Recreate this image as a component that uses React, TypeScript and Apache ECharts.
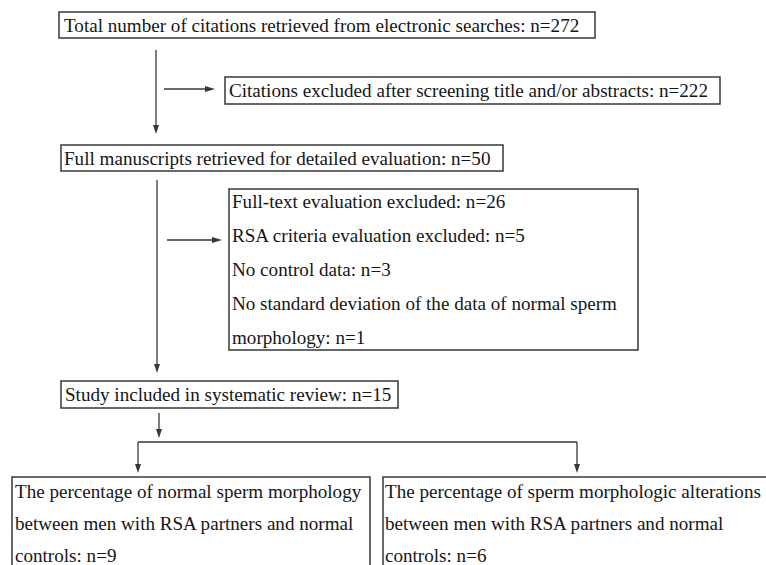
import React, { useEffect, useRef } from "react";
import * as echarts from "echarts";

// ---- data ----
const stageLabels = [
  "Total number of citations retrieved from electronic searches",
  "Citations excluded after screening title and/or abstracts",
  "Full manuscripts retrieved for detailed evaluation",
  "Study included in systematic review",
];
const stageCounts = [272, 222, 50, 15];

const exclusionLabels = [
  "Full-text evaluation excluded",
  "RSA criteria evaluation excluded",
  "No control data",
  "No standard deviation of the data of normal sperm\nmorphology",
];
const exclusionCounts = [26, 5, 3, 1];

const outcomeLabels = [
  "The percentage of normal sperm morphology\nbetween men with RSA partners and normal\ncontrols",
  "The percentage of sperm morphologic alterations\nbetween men with RSA partners and normal\ncontrols",
];
const outcomeCounts = [9, 6];

const FONT = '19.1px "Liberation Serif", "DejaVu Serif", serif';
const LINE = "#383838";
const TEXT = "#161616";

function box(x: number, y: number, w: number, h: number) {
  return {
    type: "rect",
    shape: { x, y, width: w, height: h },
    style: { fill: "none", stroke: LINE, lineWidth: 1.5 },
  };
}

function label(x: number, y: number, text: string, lineHeight = 34) {
  return {
    type: "text",
    x,
    y,
    style: {
      text,
      font: FONT,
      fill: TEXT,
      lineHeight,
      verticalAlign: "top",
    },
  };
}

function vArrow(x: number, y1: number, y2: number) {
  return [
    { type: "line", shape: { x1: x, y1, x2: x, y2: y2 - 7 }, style: { stroke: LINE, lineWidth: 1.3 } },
    {
      type: "polygon",
      shape: { points: [[x - 3, y2 - 9], [x + 3, y2 - 9], [x, y2]] },
      style: { fill: LINE },
    },
  ];
}

function hArrow(x1: number, x2: number, y: number) {
  return [
    { type: "line", shape: { x1, y1: y, x2: x2 - 7, y2: y }, style: { stroke: LINE, lineWidth: 1.3 } },
    {
      type: "polygon",
      shape: { points: [[x2 - 10, y - 3], [x2 - 10, y + 3], [x2, y]] },
      style: { fill: LINE },
    },
  ];
}

export default function App() {
  const ref = useRef<HTMLDivElement>(null);
  useEffect(() => {
    if (!ref.current) return;
    const chart = echarts.init(ref.current, null, { renderer: "svg" });
    const s = stageLabels.map((l, i) => `${l}: n=${stageCounts[i]}`);
    const ex = exclusionLabels.map((l, i) => `${l}: n=${exclusionCounts[i]}`).join("\n");
    const oc = outcomeLabels.map((l, i) => `${l}: n=${outcomeCounts[i]}`);

    const elements: any[] = [
      box(59, 12, 536, 26),
      label(64, 14, s[0], 22),
      ...vArrow(156, 50, 134),
      ...hArrow(164, 215, 89),
      box(225, 77, 495, 27),
      label(229, 79, s[1], 22),
      box(61, 145, 442, 26),
      label(64, 147, s[2], 22),
      ...vArrow(157, 180, 373),
      ...hArrow(167, 222, 240),
      box(229, 189, 409, 161),
      label(232, 184, ex, 34),
      box(61, 381, 337, 27),
      label(65, 383, s[3], 22),
      ...vArrow(159, 413, 438),
      { type: "line", shape: { x1: 138, y1: 442, x2: 577, y2: 442 }, style: { stroke: LINE, lineWidth: 1.3 } },
      ...vArrow(138, 442, 473),
      ...vArrow(577, 442, 473),
      box(12, 477, 358, 100),
      label(15, 475, oc[0], 32),
      box(383, 477, 400, 100),
      label(385, 475, oc[1], 32),
    ];

    chart.setOption({
      animation: false,
      backgroundColor: "#ffffff",
      graphic: { elements },
    });
    return () => chart.dispose();
  }, []);
  return (
    <div
      ref={ref}
      style={{ position: "fixed", left: 0, top: 0, width: 766, height: 565 }}
    />
  );
}
